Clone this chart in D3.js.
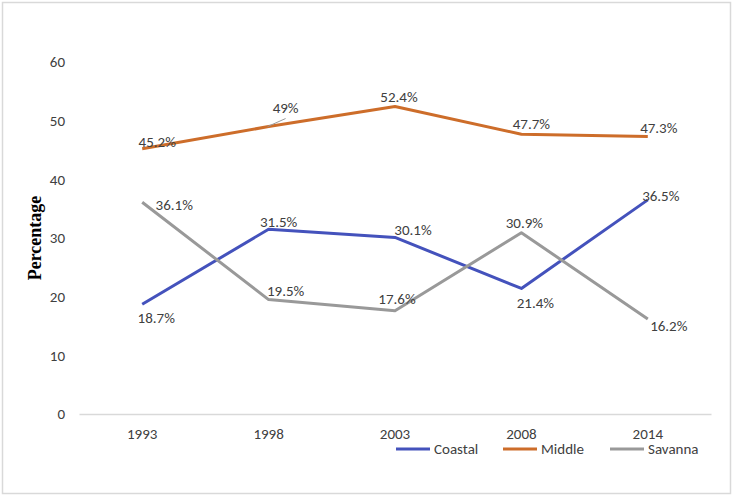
<!DOCTYPE html>
<html>
<head>
<meta charset="utf-8">
<script src="https://cdn.jsdelivr.net/npm/d3@7"></script>
<style>
  body { margin: 0; background: #fff; }
  svg { display: block; }
  text { font-family: Carlito, "Open Sans", sans-serif; fill: #404040; }
</style>
</head>
<body>
<div id="chart"></div>
<script>
const years = ["1993", "1998", "2003", "2008", "2014"];
const coastal = [18.7, 31.5, 30.1, 21.4, 36.5];
const middle = [45.2, 49, 52.4, 47.7, 47.3];
const savanna = [36.1, 19.5, 17.6, 30.9, 16.2];
const seriesNames = ["Coastal", "Middle", "Savanna"];
const yTicks = [0, 10, 20, 30, 40, 50, 60];

// label offsets relative to point (layout, not data)
const labelOffsets = {
  Coastal: [[14, 14], [10, -7], [18, -7], [14, 15], [13, -4]],
  Middle: [[15, -7], [17, -19], [4, -10], [10, -10], [11, -9]],
  Savanna: [[32, 3], [17, -9], [2, -12], [3, -10], [21, 7]]
};
const colors = { Coastal: "#4452BC", Middle: "#CD6D2A", Savanna: "#999999" };

const W = 733, H = 496;
const FS = "15px";
const svg = d3.select("#chart").append("svg").attr("width", W).attr("height", H);

svg.append("rect").attr("x", 2.5).attr("y", 2.5).attr("width", 728).attr("height", 491)
  .attr("fill", "#fff").attr("stroke", "#d9d9d9").attr("stroke-width", 1.5);

const x = d3.scaleBand().domain(years).range([79, 711]);
const xc = d => x(d) + x.bandwidth() / 2;
const y = d3.scaleLinear().domain([0, 60]).range([414, 62]);

// y axis
const ya = svg.append("g").attr("transform", "translate(79,0)")
  .call(d3.axisLeft(y).tickValues(yTicks).tickSize(0).tickPadding(14));
ya.select(".domain").remove();
ya.selectAll("text").style("font-size", FS).style("font-family", "Carlito, 'Open Sans', sans-serif").attr("fill", "#404040");

// x axis
const xa = svg.append("g").attr("transform", "translate(0,414)")
  .call(d3.axisBottom(x).tickSize(0).tickSizeOuter(0).tickPadding(14));
xa.select(".domain").attr("stroke", "#d9d9d9").attr("stroke-width", 1.5);
xa.selectAll("text").style("font-size", FS).style("font-family", "Carlito, 'Open Sans', sans-serif").attr("fill", "#404040");

// y title
svg.append("text")
  .attr("transform", "translate(41,238) rotate(-90)")
  .attr("text-anchor", "middle")
  .style("font-family", "'Liberation Serif', 'Times New Roman', serif")
  .style("font-weight", "bold")
  .style("font-size", "18px")
  .style("fill", "#000")
  .text("Percentage");

const data = { Coastal: coastal, Middle: middle, Savanna: savanna };
const line = d3.line().x((d, i) => xc(years[i])).y(d => y(d));

seriesNames.forEach(name => {
  svg.append("path").datum(data[name])
    .attr("fill", "none").attr("stroke", colors[name]).attr("stroke-width", 3)
    .attr("stroke-linejoin", "round").attr("d", line);
});

// leader line for Middle 1998
{
  const px = xc(years[1]), py = y(middle[1]);
  svg.append("line").attr("x1", px - 1).attr("y1", py).attr("x2", px + 17).attr("y2", py - 8)
    .attr("stroke", "#999").attr("stroke-width", 1);
}

seriesNames.forEach(name => {
  data[name].forEach((v, i) => {
    const o = labelOffsets[name][i];
    svg.append("text")
      .attr("x", xc(years[i]) + o[0])
      .attr("y", y(v) + o[1])
      .attr("text-anchor", "middle")
      .attr("dominant-baseline", "central")
      .style("font-size", FS)
      .text(v + "%");
  });
});

// legend
const legendX = [396, 503, 610];
seriesNames.forEach((name, i) => {
  const g = svg.append("g").attr("transform", `translate(${legendX[i]},449)`);
  g.append("line").attr("x1", 0).attr("x2", 34).attr("y1", 0).attr("y2", 0)
    .attr("stroke", colors[name]).attr("stroke-width", 3);
  g.append("text").attr("x", 38).attr("y", 0).attr("dominant-baseline", "central")
    .style("font-size", FS).text(name);
});
</script>
</body>
</html>
